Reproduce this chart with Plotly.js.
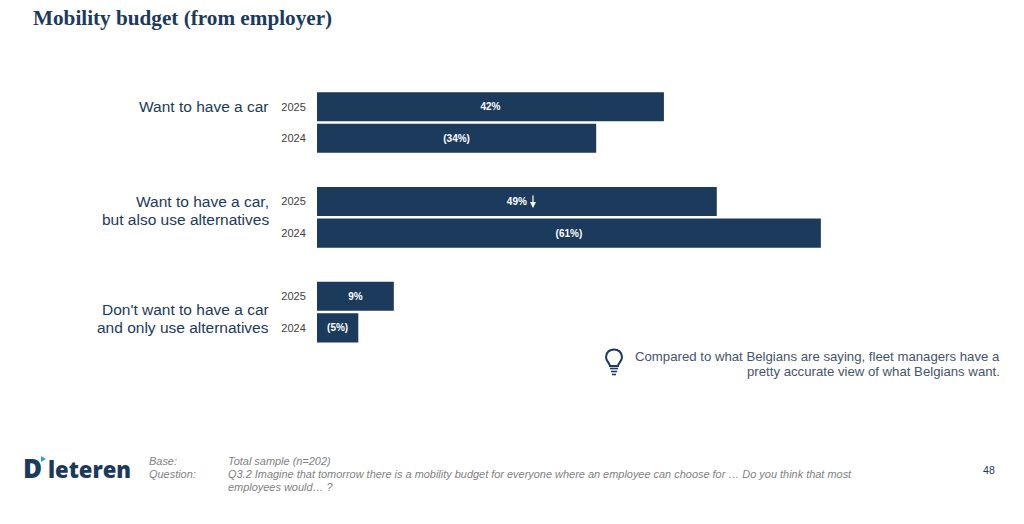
<!DOCTYPE html>
<html><head><meta charset="utf-8">
<script src="https://cdn.plot.ly/plotly-3.0.1.min.js"></script>
<style>html,body{margin:0;padding:0;background:#fff;overflow:hidden}#c{width:1024px;height:524px}</style>
</head><body><div id="c"></div>
<script>
const years = ["2025","2024","2025","2024","2025","2024"];
const slots = [0,1,3,4,6,7];
const values = [42.0,33.8,48.4,61.0,9.3,5.0];
const barLabels = ["42%","(34%)","49%","(61%)","9%","(5%)"];
const groupLabels = [["Want to have a car"],["Want to have a car,","but also use alternatives"],["Don't want to have a car","and only use alternatives"]];
const titleText = "Mobility budget (from employer)";
const calloutLines = ["Compared to what Belgians are saying, fleet managers have a","pretty accurate view of what Belgians want."];
const navy = "#1b3a5c";

const W=1024,H=524,L=317,R=0,T=60,B=164;
const X=p=>(p-L)/(W-L-R), Y=p=>(H-B-p)/(H-T-B);
const pct=8.26, rowH=31.6, y0=106.7;
const text=(x,y,t,size,color,anchor,extra)=>Object.assign({xref:'paper',yref:'paper',x:X(x+(anchor==='right'?2:-2)),y:Y(y),text:t,showarrow:false,xanchor:anchor||'left',yanchor:'middle',align:anchor||'left',font:{family:'"Liberation Sans",Arial,sans-serif',size:size,color:color}},extra||{});
const ital=s=>'<i>'+s+'</i>';
const grey="#7f7f7f";
const logoFont={family:'"Open Sans",sans-serif',size:22,color:navy,weight:800};

const annotations=[
 text(33,18,'<b>'+titleText+'</b>',21,navy,'left',{font:{family:'"Liberation Serif",Georgia,serif',size:21.2,color:navy}}),
 text(269,107,groupLabels[0][0],15.5,navy,'right'),
 text(269,201,groupLabels[1][0],15.5,navy,'right'),
 text(269,219,groupLabels[1][1],15.5,navy,'right'),
 text(269,309,groupLabels[2][0],15.5,navy,'right'),
 text(269,327,groupLabels[2][1],15.5,navy,'right'),
 text(1000,356,calloutLines[0],13.2,"#44546a",'right'),
 text(1000,371,calloutLines[1],13.2,"#44546a",'right'),
 text(149,461,ital("Base:"),10.95,grey),
 text(149,474,ital("Question:"),10.95,grey),
 text(228,461,ital("Total sample (n=202)"),10.95,grey),
 text(228,474,ital("Q3.2 Imagine that tomorrow there is a mobility budget for everyone where an employee can choose for … Do you think that most"),10.95,grey),
 text(228,487,ital("employees would… ?"),10.95,grey),
 text(995,470,"48",10.6,navy,'right'),
 text(23,468,'D',26,navy,'left',{font:Object.assign({},logoFont,{size:26})}),
 text(48,469,'leteren',22,navy,'left',{font:logoFont}),
 {xref:'paper',yref:'paper',x:X(533),y:Y(208),ax:0,ay:-14,text:'',showarrow:true,arrowhead:2,arrowsize:1,arrowwidth:1.2,arrowcolor:'#fff'}
];
const lineS=(x1,y1,x2,y2,w,c)=>({type:'line',xref:'paper',yref:'paper',x0:X(x1),y0:Y(y1),x1:X(x2),y1:Y(y2),line:{color:c,width:w}});
const shapes=[
 {type:'path',xref:'paper',yref:'paper',
  path:(()=>{const f=(x,y)=>X(x)+' '+Y(y);return 'M'+f(610,366)+' C'+f(609,362)+' '+f(606,361)+' '+f(606,357)+' C'+f(606,347)+' '+f(622,347)+' '+f(622,357)+' C'+f(622,361)+' '+f(619,362)+' '+f(618,366)+' Z';})(),
  line:{color:navy,width:2},fillcolor:'rgba(0,0,0,0)'},
 lineS(610,368.5,618,368.5,1.6,navy),
 lineS(611,371.5,617,371.5,1.6,navy),
 lineS(612,374.5,616,374.5,1.6,navy),
 {type:'path',xref:'paper',yref:'paper',path:'M'+X(41)+' '+Y(456)+' L'+X(46)+' '+Y(459)+' L'+X(41)+' '+Y(462)+' Z',line:{width:0},fillcolor:'#2e9fd8'},
];
const trace={type:'bar',orientation:'h',y:slots,x:values,width:0.92,text:barLabels,
 textposition:'inside',insidetextanchor:'middle',textangle:0,constraintext:'none',
 textfont:{family:'"Liberation Sans",Arial,sans-serif',size:10,color:'#fff',weight:700},
 marker:{color:navy,line:{width:0}},hoverinfo:'skip'};
const layout={width:W,height:H,margin:{l:L,r:R,t:T,b:B,pad:0},paper_bgcolor:'#fff',plot_bgcolor:'#fff',showlegend:false,
 xaxis:{range:[0,(W-L-R)/pct],visible:false,fixedrange:true},
 yaxis:{range:[(H-B-y0)/rowH,(T-y0)/rowH],tickmode:'array',tickvals:slots,ticktext:years,showgrid:false,zeroline:false,showline:false,ticks:'outside',ticklen:8,tickcolor:'rgba(0,0,0,0)',
  tickfont:{family:'"Liberation Sans",Arial,sans-serif',size:11,color:'#404040'},fixedrange:true},
 annotations,shapes};
Plotly.newPlot('c',[trace],layout,{displayModeBar:false,staticPlot:true});
</script></body></html>
